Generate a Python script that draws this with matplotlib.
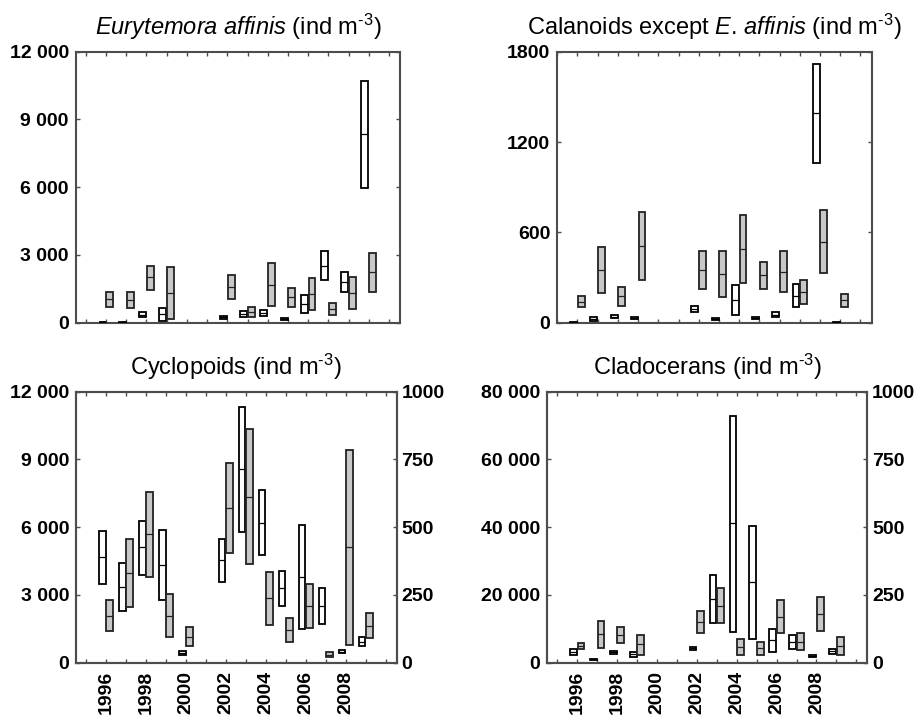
import numpy as np
import matplotlib
matplotlib.use("Agg")
import matplotlib.pyplot as plt
from matplotlib.ticker import FuncFormatter

plt.rcParams['font.family'] = ['Liberation Sans', 'DejaVu Sans']
plt.rcParams['mathtext.fontset'] = 'custom'
plt.rcParams['mathtext.rm'] = 'Liberation Sans'
plt.rcParams['mathtext.it'] = 'Liberation Sans:italic'

nan = np.nan
years = list(range(1996, 2010))

# each series: lower quartile, median, upper quartile per year (nan = no data)
# Eurytemora affinis
eury_white_lo = [10, 0, 236, 89, nan, nan, 177, 236, 310, 103, 413, 1889, 1358, 5963]
eury_white_md = [30, 10, 354, 369, nan, nan, 236, 384, 443, 148, 827, 2524, 1815, 8339]
eury_white_hi = [50, 20, 472, 635, nan, nan, 295, 531, 561, 192, 1210, 3159, 2258, 10686]
eury_grey_lo = [708, 664, 1446, 148, nan, nan, 1063, 266, 753, 708, 561, 354, 590, 1373]
eury_grey_md = [1048, 1004, 2007, 1299, nan, nan, 1579, 487, 1668, 1137, 1269, 605, 1299, 2229]
eury_grey_hi = [1358, 1343, 2524, 2450, nan, nan, 2096, 708, 2627, 1520, 1963, 856, 2007, 3070]

# Calanoids except E. affinis
cal_white_lo = [0, 13, 29, 22, nan, nan, 73, 15, 49, 27, 35, 102, 1063, 0]
cal_white_md = [3, 27, 40, 31, nan, nan, 93, 22, 148, 33, 51, 179, 1390, 3]
cal_white_hi = [6, 40, 49, 40, nan, nan, 111, 29, 248, 40, 69, 257, 1718, 6]
cal_grey_lo = [102, 195, 113, 283, nan, nan, 226, 173, 261, 224, 201, 122, 328, 106]
cal_grey_md = [139, 348, 175, 507, nan, nan, 352, 323, 489, 314, 339, 204, 538, 148]
cal_grey_hi = [177, 500, 235, 733, nan, nan, 478, 476, 715, 405, 474, 283, 748, 190]

# Cyclopoids (white: left axis, grey: right axis)
cyc_white_lo = [3483, 2303, 3882, 2775, 325, nan, 3572, 5801, 4768, 2524, 1506, 1727, 413, 738]
cyc_white_md = [4664, 3365, 5107, 4325, 413, nan, 4531, 8576, 6199, 3291, 3779, 2524, 487, 930]
cyc_white_hi = [5845, 4428, 6288, 5889, 531, nan, 5491, 11306, 7646, 4059, 6081, 3321, 561, 1122]
cyc_grey_lo = [117, 204, 317, 96, 62, nan, 403, 364, 139, 76, 129, 21, 65, 90]
cyc_grey_md = [173, 330, 474, 173, 96, nan, 570, 613, 237, 121, 210, 30, 426, 135]
cyc_grey_hi = [231, 455, 631, 252, 130, nan, 736, 861, 335, 166, 292, 38, 785, 182]

# Cladocerans (white: left axis, grey: right axis)
cla_white_lo = [2263, 800, 2558, 1771, nan, nan, 3641, 11611, 8954, 6986, 3247, 4034, 1771, 2558]
cla_white_md = [3149, 1000, 3050, 2558, nan, nan, 4231, 18794, 41131, 23714, 6691, 6199, 2066, 3346]
cla_white_hi = [3936, 1200, 3542, 3247, nan, nan, 4723, 25879, 72816, 40344, 10037, 8167, 2263, 4034]
cla_grey_lo = [49, 53, 74, 28, nan, nan, 108, 145, 28, 28, 108, 47, 117, 28]
cla_grey_md = [63, 105, 102, 68, nan, nan, 150, 210, 57, 53, 170, 77, 180, 63]
cla_grey_hi = [74, 155, 130, 103, nan, nan, 192, 274, 86, 77, 231, 108, 241, 96]

SPINE = '#4d4d4d'
GREY = '#c8c8c8'
W = 0.34
OFF = 0.19
TICK_FS = 14
TITLE_FS = 17
UNIT = r" (ind m$^{\text{-3}}$)"


def space_fmt(v, pos):
    return f"{v:,.0f}".replace(",", " ")


def boxes(ax, lo, md, hi, face, edge, side):
    x = np.array(years) + side * OFF
    lo = np.array(lo, dtype=float)
    md = np.array(md, dtype=float)
    hi = np.array(hi, dtype=float)
    ok = ~np.isnan(lo)
    ax.bar(x[ok], hi[ok] - lo[ok], bottom=lo[ok], width=W, facecolor=face,
           edgecolor=edge, linewidth=1.3, zorder=3)
    ax.hlines(md[ok], x[ok] - W / 2, x[ok] + W / 2, colors=edge, linewidth=0.9, zorder=4)


def style(ax, xlim, ylim, yticks, fmt, xlabels):
    ax.set_xlim(*xlim)
    ax.set_ylim(*ylim)
    ax.set_yticks(yticks)
    ax.yaxis.set_major_formatter(fmt)
    ax.set_xticks(range(1995, 2011))
    if xlabels:
        ax.set_xticklabels([str(y) if y % 2 == 0 and y <= 2008 else '' for y in range(1995, 2011)],
                           rotation=90, fontweight='bold', fontsize=TICK_FS)
    else:
        ax.set_xticklabels([])
    ax.tick_params(axis='both', direction='in', length=3, width=1, color=SPINE,
                   top=True, right=True, labelsize=TICK_FS)
    ax.tick_params(axis='x', pad=6)
    ax.tick_params(axis='y', pad=5)
    for lab in ax.get_yticklabels():
        lab.set_fontweight('bold')
    for s in ax.spines.values():
        s.set_color(SPINE)
        s.set_linewidth(1.5)


def right_axis(ax):
    ax2 = ax.twinx()
    ax2.set_ylim(0, 1000)
    ax2.set_yticks([0, 250, 500, 750, 1000])
    ax2.tick_params(axis='y', direction='in', length=3, width=1, color=SPINE,
                    labelsize=TICK_FS, pad=3.5)
    for lab in ax2.get_yticklabels():
        lab.set_fontweight('bold')
    for s in ax2.spines.values():
        s.set_color(SPINE)
        s.set_linewidth(1.5)
    return ax2


fig = plt.figure(figsize=(9.17, 7.17), dpi=100)
H = 0.378
ax1 = fig.add_axes([0.0826, 0.5499, 0.3537, H])
ax2 = fig.add_axes([0.6077, 0.5499, 0.3428, H])
ax3 = fig.add_axes([0.0829, 0.0757, 0.3497, H])
ax4 = fig.add_axes([0.5968, 0.0757, 0.3490, H])

# Eurytemora affinis
boxes(ax1, eury_white_lo, eury_white_md, eury_white_hi, 'white', 'black', -1)
boxes(ax1, eury_grey_lo, eury_grey_md, eury_grey_hi, GREY, '#222222', 1)
style(ax1, (1994.5, 2010.55), (0, 12000), [0, 3000, 6000, 9000, 12000],
      FuncFormatter(space_fmt), False)
ax1.set_title(r"$\mathit{Eurytemora}$ $\mathit{affinis}$" + UNIT, fontsize=TITLE_FS, pad=12)

# Calanoids
boxes(ax2, cal_white_lo, cal_white_md, cal_white_hi, 'white', 'black', -1)
boxes(ax2, cal_grey_lo, cal_grey_md, cal_grey_hi, GREY, '#222222', 1)
style(ax2, (1995.0, 2010.55), (0, 1800), [0, 600, 1200, 1800],
      FuncFormatter(lambda v, p: f"{v:.0f}"), False)
ax2.set_title(r"Calanoids except $\mathit{E}$. $\mathit{affinis}$" + UNIT, fontsize=TITLE_FS, pad=12)

# Cyclopoids
boxes(ax3, cyc_white_lo, cyc_white_md, cyc_white_hi, 'white', 'black', -1)
style(ax3, (1994.5, 2010.55), (0, 12000), [0, 3000, 6000, 9000, 12000],
      FuncFormatter(space_fmt), True)
ax3.tick_params(axis='y', right=False)
ax3b = right_axis(ax3)
boxes(ax3b, cyc_grey_lo, cyc_grey_md, cyc_grey_hi, GREY, '#222222', 1)
ax3.set_title("Cyclopoids" + UNIT, fontsize=TITLE_FS, pad=12)

# Cladocerans
boxes(ax4, cla_white_lo, cla_white_md, cla_white_hi, 'white', 'black', -1)
style(ax4, (1994.5, 2010.55), (0, 80000), [0, 20000, 40000, 60000, 80000],
      FuncFormatter(space_fmt), True)
ax4.tick_params(axis='y', right=False)
ax4b = right_axis(ax4)
boxes(ax4b, cla_grey_lo, cla_grey_md, cla_grey_hi, GREY, '#222222', 1)
ax4.set_title("Cladocerans" + UNIT, fontsize=TITLE_FS, pad=12)

fig.savefig("out.png", dpi=100)
